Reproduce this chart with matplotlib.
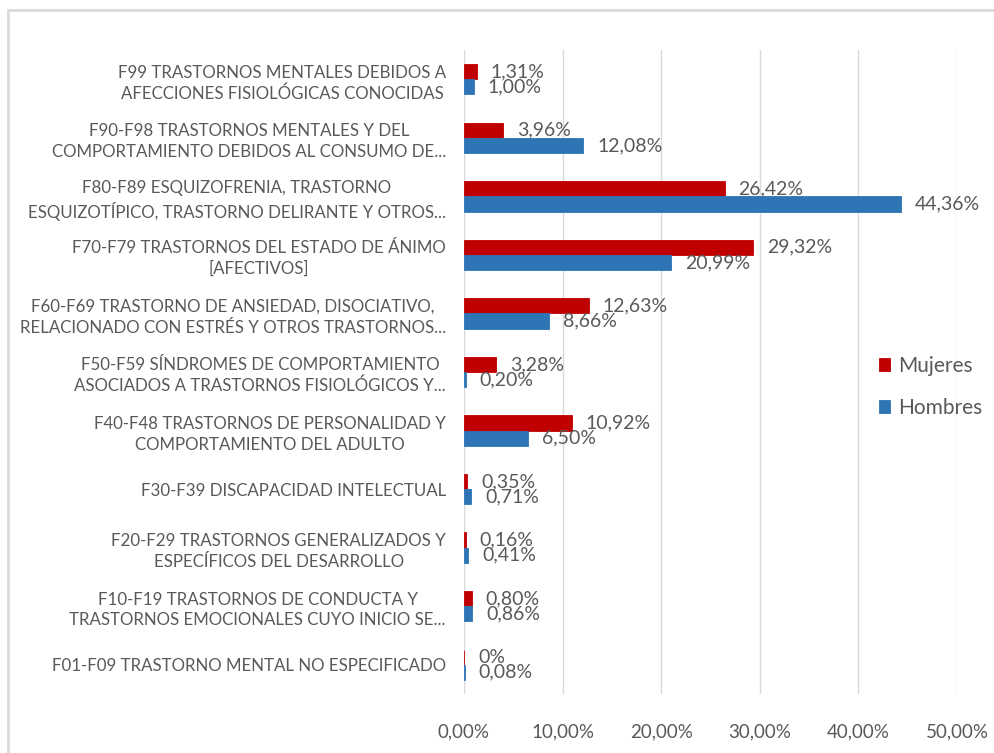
import matplotlib.pyplot as plt
import matplotlib.patches as mpatches
import numpy as np

categorias = [
    "F99 TRASTORNOS MENTALES DEBIDOS A\nAFECCIONES FISIOLÓGICAS CONOCIDAS",
    "F90-F98 TRASTORNOS MENTALES Y DEL\nCOMPORTAMIENTO DEBIDOS AL CONSUMO DE...",
    "F80-F89 ESQUIZOFRENIA, TRASTORNO\nESQUIZOTÍPICO, TRASTORNO DELIRANTE Y OTROS...",
    "F70-F79 TRASTORNOS DEL ESTADO DE ÁNIMO\n[AFECTIVOS]",
    "F60-F69 TRASTORNO DE ANSIEDAD, DISOCIATIVO,\nRELACIONADO CON ESTRÉS Y OTROS TRASTORNOS...",
    "F50-F59 SÍNDROMES DE COMPORTAMIENTO\nASOCIADOS A TRASTORNOS FISIOLÓGICOS Y...",
    "F40-F48 TRASTORNOS DE PERSONALIDAD Y\nCOMPORTAMIENTO DEL ADULTO",
    "F30-F39 DISCAPACIDAD INTELECTUAL",
    "F20-F29 TRASTORNOS GENERALIZADOS Y\nESPECÍFICOS DEL DESARROLLO",
    "F10-F19 TRASTORNOS DE CONDUCTA Y\nTRASTORNOS EMOCIONALES CUYO INICIO SE...",
    "F01-F09 TRASTORNO MENTAL NO ESPECIFICADO",
]
mujeres = [1.31, 3.96, 26.42, 29.32, 12.63, 3.28, 10.92, 0.35, 0.16, 0.80, 0.00]
hombres = [1.00, 12.08, 44.36, 20.99, 8.66, 0.20, 6.50, 0.71, 0.41, 0.86, 0.08]
xticks = [0, 10, 20, 30, 40, 50]

ROJO = '#C00000'
AZUL = '#2E75B6'
GRIS = '#595959'

plt.rcParams['font.family'] = ['Lato', 'DejaVu Sans']

fig = plt.figure(figsize=(9.94, 7.53), dpi=100)
ax = fig.add_axes([464/994, 1 - 694/753, (957 - 464)/994, (694 - 50)/753])

# marco gris del recorte original
fig.patches.append(mpatches.Rectangle((8/994, -0.1), 1.2, 1.1 - 10/753,
                                      transform=fig.transFigure, fill=False,
                                      edgecolor='#d9d9d9', linewidth=2, zorder=0))

y = np.arange(len(categorias))
h = 0.26
bm = ax.barh(y - h/2, mujeres, height=h, color=ROJO, edgecolor=ROJO, linewidth=0.6,
             label='Mujeres', zorder=3)
bh = ax.barh(y + h/2, hombres, height=h, color=AZUL, edgecolor=AZUL, linewidth=0.6,
             label='Hombres', zorder=3)


def etiqueta(v):
    if v == 0:
        return "0%"
    return f"{v:.2f}%".replace('.', ',')


for barras, vals in [(bm, mujeres), (bh, hombres)]:
    for b, v in zip(barras, vals):
        ax.annotate(etiqueta(v), (b.get_width(), b.get_y() + b.get_height()/2),
                    xytext=(10, 0), textcoords='offset points', va='center',
                    ha='left', fontsize=14, color=GRIS)

ax.set_ylim(len(categorias) - 0.5, -0.5)
ax.set_xlim(0, 50)
ax.set_yticks(y)
ax.set_yticklabels(categorias, fontsize=12.2, color=GRIS, multialignment='center',
                   linespacing=1.35)
ax.set_xticks(xticks)
ax.set_xticklabels([f"{t:.2f}%".replace('.', ',') for t in xticks], fontsize=13.5, color=GRIS)
ax.tick_params(axis='y', length=0, pad=13)
ax.tick_params(axis='x', length=0, pad=21)
for s in ax.spines.values():
    s.set_visible(False)
ax.grid(axis='x', color='#d9d9d9', linewidth=1, zorder=0)
ax.set_axisbelow(True)

fig.legend(handles=[bm, bh], labels=['Mujeres', 'Hombres'], loc='upper left',
           bbox_to_anchor=(860/994, 1 - 337/753), frameon=False, fontsize=15,
           labelcolor=GRIS, handlelength=0.55, handleheight=0.55, handletextpad=0.4,
           labelspacing=1.05)

fig.savefig('out.png', dpi=100, facecolor='white')
